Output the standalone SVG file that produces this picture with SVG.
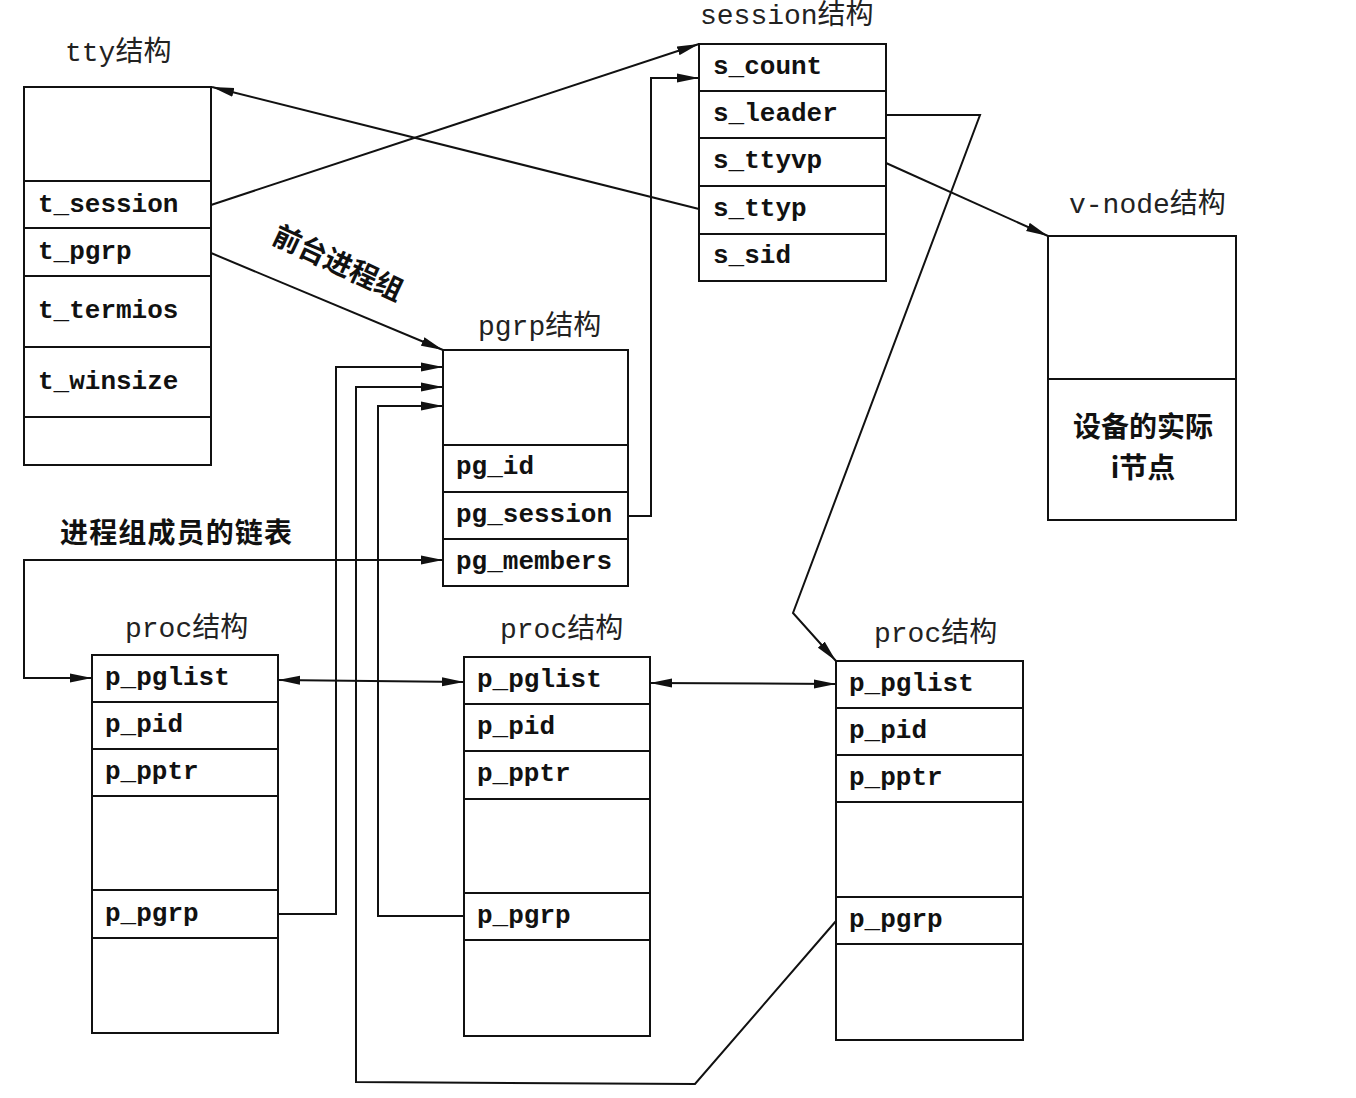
<svg xmlns="http://www.w3.org/2000/svg" width="1356" height="1098" viewBox="0 0 1356 1098">
<style>
.box{fill:#fff;stroke:#111;stroke-width:2}
.div{stroke:#111;stroke-width:2}
.fld{font-family:"Liberation Mono","Courier New",monospace;font-size:26px;font-weight:bold;fill:#111}
.ttl{font-family:"Liberation Mono","Noto Sans CJK SC",monospace;font-size:28px;fill:#222}
.cjk{font-family:"Noto Sans CJK SC",sans-serif;font-size:28px;font-weight:bold;fill:#111}
.con{fill:none;stroke:#111;stroke-width:2}
</style>
<defs>
<marker id="ah" markerUnits="userSpaceOnUse" viewBox="0 0 22 10" markerWidth="22" markerHeight="10" refX="22" refY="5" orient="auto-start-reverse">
<path d="M0,0.5 L22,5 L0,9.5 z" fill="#111"/>
</marker>
</defs>

<g id="tty">
<text class="ttl" x="65" y="61">tty结构</text>
<rect class="box" x="24" y="87" width="187" height="378"/>
<line class="div" x1="24" y1="181" x2="211" y2="181"/>
<line class="div" x1="24" y1="228" x2="211" y2="228"/>
<line class="div" x1="24" y1="276" x2="211" y2="276"/>
<line class="div" x1="24" y1="347" x2="211" y2="347"/>
<line class="div" x1="24" y1="417" x2="211" y2="417"/>
<text class="fld" x="38" y="212">t_session</text>
<text class="fld" x="38" y="259">t_pgrp</text>
<text class="fld" x="38" y="318">t_termios</text>
<text class="fld" x="38" y="389">t_winsize</text>
</g>

<g id="session">
<text class="ttl" x="700" y="24">session结构</text>
<rect class="box" x="699" y="44" width="187" height="237"/>
<line class="div" x1="699" y1="91" x2="886" y2="91"/>
<line class="div" x1="699" y1="138" x2="886" y2="138"/>
<line class="div" x1="699" y1="186" x2="886" y2="186"/>
<line class="div" x1="699" y1="234" x2="886" y2="234"/>
<text class="fld" x="713" y="74">s_count</text>
<text class="fld" x="713" y="121">s_leader</text>
<text class="fld" x="713" y="168">s_ttyvp</text>
<text class="fld" x="713" y="216">s_ttyp</text>
<text class="fld" x="713" y="263">s_sid</text>
</g>

<g id="vnode">
<text class="ttl" x="1069" y="213">v-node结构</text>
<rect class="box" x="1048" y="236" width="188" height="284"/>
<line class="div" x1="1048" y1="379" x2="1236" y2="379"/>
<text class="cjk" x="1143" y="437" text-anchor="middle">设备的实际</text>
<text class="cjk" x="1143" y="478" text-anchor="middle">i节点</text>
</g>

<g id="pgrp">
<text class="ttl" x="478" y="335">pgrp结构</text>
<rect class="box" x="443" y="350" width="185" height="236"/>
<line class="div" x1="443" y1="445" x2="628" y2="445"/>
<line class="div" x1="443" y1="492" x2="628" y2="492"/>
<line class="div" x1="443" y1="539" x2="628" y2="539"/>
<text class="fld" x="456" y="474">pg_id</text>
<text class="fld" x="456" y="522">pg_session</text>
<text class="fld" x="456" y="569">pg_members</text>
</g>

<g id="proc1">
<text class="ttl" x="125" y="637">proc结构</text>
<rect class="box" x="92" y="655" width="186" height="378"/>
<line class="div" x1="92" y1="702" x2="278" y2="702"/>
<line class="div" x1="92" y1="749" x2="278" y2="749"/>
<line class="div" x1="92" y1="796" x2="278" y2="796"/>
<line class="div" x1="92" y1="890" x2="278" y2="890"/>
<line class="div" x1="92" y1="938" x2="278" y2="938"/>
<text class="fld" x="105" y="685">p_pglist</text>
<text class="fld" x="105" y="732">p_pid</text>
<text class="fld" x="105" y="779">p_pptr</text>
<text class="fld" x="105" y="921">p_pgrp</text>
</g>

<g id="proc2">
<text class="ttl" x="500" y="638">proc结构</text>
<rect class="box" x="464" y="657" width="186" height="379"/>
<line class="div" x1="464" y1="704" x2="650" y2="704"/>
<line class="div" x1="464" y1="751" x2="650" y2="751"/>
<line class="div" x1="464" y1="799" x2="650" y2="799"/>
<line class="div" x1="464" y1="893" x2="650" y2="893"/>
<line class="div" x1="464" y1="940" x2="650" y2="940"/>
<text class="fld" x="477" y="687">p_pglist</text>
<text class="fld" x="477" y="734">p_pid</text>
<text class="fld" x="477" y="781">p_pptr</text>
<text class="fld" x="477" y="923">p_pgrp</text>
</g>

<g id="proc3">
<text class="ttl" x="874" y="642">proc结构</text>
<rect class="box" x="836" y="661" width="187" height="379"/>
<line class="div" x1="836" y1="708" x2="1023" y2="708"/>
<line class="div" x1="836" y1="755" x2="1023" y2="755"/>
<line class="div" x1="836" y1="802" x2="1023" y2="802"/>
<line class="div" x1="836" y1="897" x2="1023" y2="897"/>
<line class="div" x1="836" y1="944" x2="1023" y2="944"/>
<text class="fld" x="849" y="691">p_pglist</text>
<text class="fld" x="849" y="738">p_pid</text>
<text class="fld" x="849" y="785">p_pptr</text>
<text class="fld" x="849" y="927">p_pgrp</text>
</g>

<g id="labels">
<text class="cjk" transform="translate(334,272) rotate(25)" text-anchor="middle">前台进程组</text>
<text class="cjk" x="60" y="543" textLength="232">进程组成员的链表</text>
</g>

<g id="connectors">
<path class="con" d="M211,205 L699,44" marker-end="url(#ah)"/>
<path class="con" d="M699,209 L212,87" marker-end="url(#ah)"/>
<path class="con" d="M211,253 L443,350" marker-end="url(#ah)"/>
<path class="con" d="M886,163 L1048,236" marker-end="url(#ah)"/>
<path class="con" d="M628,516 L651,516 L651,78 L699,78" marker-end="url(#ah)"/>
<path class="con" d="M886,115 L980,115 L793,613 L836,661" marker-end="url(#ah)"/>
<path class="con" d="M92,678 L24,678 L24,560 L443,560" marker-start="url(#ah)" marker-end="url(#ah)"/>
<path class="con" d="M278,680 L464,682" marker-start="url(#ah)" marker-end="url(#ah)"/>
<path class="con" d="M650,683 L836,684" marker-start="url(#ah)" marker-end="url(#ah)"/>
<path class="con" d="M278,914 L336,914 L336,367 L443,367" marker-end="url(#ah)"/>
<path class="con" d="M464,916 L378,916 L378,406 L443,406" marker-end="url(#ah)"/>
<path class="con" d="M836,921 L695,1084 L356,1082 L356,387 L443,387" marker-end="url(#ah)"/>
</g>
</svg>
